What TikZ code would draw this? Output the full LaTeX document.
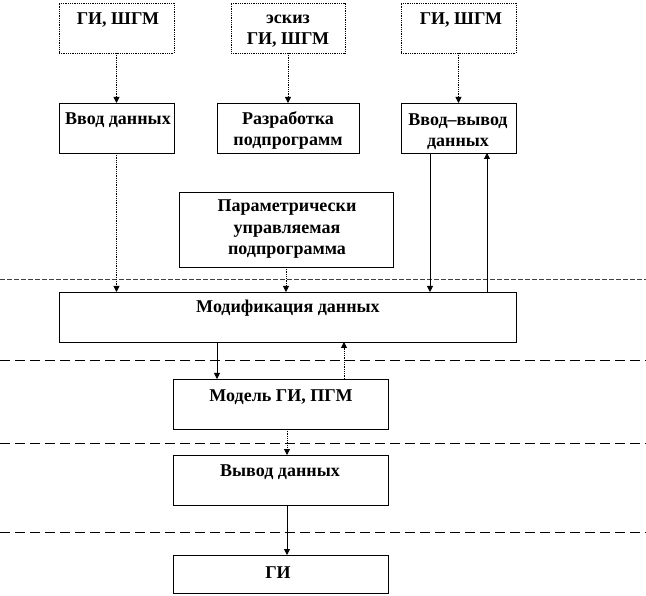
\documentclass[tikz,border=0pt]{standalone}
\usepackage{fontspec}
\setmainfont{Liberation Serif}
\usetikzlibrary{arrows.meta}
\begin{document}
\begin{tikzpicture}[x=1pt,y=-1pt,
  box/.style={draw, line width=0.8pt, anchor=north west, inner sep=0pt, outer sep=0pt},
  dbox/.style={box, densely dotted},
  txt/.style={font=\bfseries\fontsize{18}{21.5}\selectfont, align=center, anchor=base, inner sep=0pt},
  arr/.style={-{Triangle[width=6pt,length=6pt]}, line width=0.8pt},
  darr/.style={arr, densely dotted},
  sepdot/.style={line width=0.6pt, black!75, dash pattern=on 5pt off 2pt},
  sepdash/.style={line width=0.8pt, dash pattern=on 10pt off 5pt}]
\useasboundingbox (0,0) rectangle (646,596);
% separators
\draw[sepdot] (0,279) -- (646,279);
\draw[sepdash] (0,360) -- (646,360);
\draw[sepdash] (0,443) -- (646,443);
\draw[sepdash] (0,532) -- (646,532);
% boxes
\node[dbox, minimum width=115pt, minimum height=50pt] (g1) at (59,3) {};
\node[dbox, minimum width=114pt, minimum height=50pt] (g2) at (231,3) {};
\node[dbox, minimum width=115pt, minimum height=50pt] (g3) at (401,3) {};
\node[box, minimum width=115pt, minimum height=50pt] (vd) at (59,103) {};
\node[box, minimum width=142pt, minimum height=50pt] (rp) at (217,103) {};
\node[box, minimum width=115pt, minimum height=50pt] (iov) at (401,103) {};
\node[box, minimum width=214pt, minimum height=75pt] (par) at (179,192) {};
\node[box, minimum width=457pt, minimum height=50pt] (mod) at (59,292) {};
\node[box, minimum width=215pt, minimum height=50pt] (mdl) at (173,379) {};
\node[box, minimum width=215pt, minimum height=50pt] (vyv) at (173,455) {};
\node[box, minimum width=215pt, minimum height=38pt] (gi) at (173,555) {};
% texts (anchor = baseline of last line)
\node[txt] (tg1) at (118,25) {ГИ, ШГМ};
\node[txt] (tg2) at (288,45) {эскиз\\ГИ, ШГМ};
\node[txt] (tg3) at (461,25) {ГИ, ШГМ};
\node[txt] (tvd) at (118,125) {Ввод данных};
\node[txt] (trp) at (288,146) {Разработка\\подпрограмм};
\node[txt] (tiov) at (458,147) {Ввод--вывод\\данных};
\node[txt] (tpar) at (287,255) {Параметрически\\управляемая\\подпрограмма};
\node[txt] (tmod) at (288,313) {Модификация данных};
\node[txt] (tmdl) at (281,402) {Модель ГИ, ПГМ};
\node[txt] (tvyv) at (280,476) {Вывод данных};
\node[txt] (tgi) at (278,578) {ГИ};
% x positions
\coordinate (x217) at (217,0);
\coordinate (x287) at (287,0);
\coordinate (x344) at (344,0);
\coordinate (x430) at (430,0);
\coordinate (x487) at (487,0);
% connectors
\draw[darr] (g1.south) -- (vd.north);
\draw[darr] (g2.south) -- (rp.north);
\draw[darr] (g3.south) -- (iov.north);
\draw[darr] (vd.south) -- (vd.south |- mod.north);
\draw[darr] (par.south) -- (par.south |- mod.north);
\draw[arr] (iov.south -| x430) -- (mod.north -| x430);
\draw[arr] (mod.north -| x487) -- (iov.south -| x487);
\draw[arr] (mod.south -| x217) -- (mdl.north -| x217);
\draw[darr] (mdl.north -| x344) -- (mod.south -| x344);
\draw[darr] (mdl.south -| x287) -- (vyv.north -| x287);
\draw[arr] (vyv.south -| x287) -- (gi.north -| x287);
\end{tikzpicture}
\end{document}
